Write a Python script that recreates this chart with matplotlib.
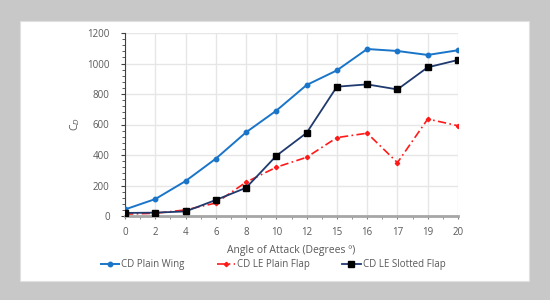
import numpy as np
import matplotlib
matplotlib.use("Agg")
import matplotlib.pyplot as plt
from matplotlib.patches import Rectangle

# angle of attack categories (equally spaced on the chart)
angles = ["0", "2", "4", "6", "8", "10", "12", "15", "16", "17", "19", "20"]

cd_plain_wing = [43, 111, 229, 376, 549, 691, 859, 955, 1095, 1082, 1056, 1087]
cd_le_plain_flap = [12, 18, 40, 85, 222, 320, 385, 514, 543, 350, 636, 592]
cd_le_slotted_flap = [20, 22, 30, 105, 185, 395, 545, 848, 863, 830, 975, 1023]

TEXT = "#595959"
plt.rcParams["font.family"] = ["Open Sans", "DejaVu Sans"]

fig = plt.figure(figsize=(5.5, 3.0), dpi=100)
fig.patch.set_facecolor("#c8c8c8")
# white chart panel
fig.patches.append(Rectangle((20 / 550, 1 - 281 / 300), 509 / 550, 260 / 300,
                             transform=fig.transFigure, facecolor="white",
                             edgecolor="#e0e0e0", lw=0.8, zorder=-10))

ax = fig.add_axes([125 / 550, 1 - 216 / 300, 333 / 550, 183 / 300])
ax.set_zorder(1)
ax.set_facecolor("white")
x = np.arange(len(angles))

ax.plot(x, cd_plain_wing, color="#1a75c9", lw=1.4, marker="o", ms=3.2,
        label="CD Plain Wing", zorder=3)
ax.plot(x, cd_le_plain_flap, color="#ff1a1a", lw=1.2, ls=(0, (5, 2, 1, 2)),
        marker="D", ms=2.2, label="CD LE Plain Flap", zorder=3)
ax.plot(x, cd_le_slotted_flap, color="#1f3a6e", lw=1.3, marker="s", ms=4,
        mfc="black", mec="black", label="CD LE Slotted Flap", zorder=4)

ax.set_xlim(0, len(angles) - 1)
ax.set_ylim(0, 1200)
ax.set_xticks(x)
ax.set_xticklabels(angles)
ax.set_yticks(np.arange(0, 1201, 200))
ax.set_yticks(np.arange(0, 1201, 40), minor=True)
ax.set_xticks(x[:-1] + 0.5, minor=True)

ax.grid(True, which="major", color="#e6e6e6", lw=1.0)
ax.set_axisbelow(True)

for s in ["top", "right"]:
    ax.spines[s].set_visible(False)
ax.spines["left"].set_color("#404040")
ax.spines["left"].set_linewidth(0.8)
ax.spines["bottom"].set_color("#a6a6a6")
ax.spines["bottom"].set_linewidth(2.0)

ax.tick_params(axis="y", which="major", length=3, color="#404040",
               labelsize=7, labelcolor=TEXT, pad=8)
ax.tick_params(axis="y", which="minor", length=2, color="#404040")
ax.tick_params(axis="x", which="both", length=2, color="#808080",
               labelsize=7, labelcolor=TEXT, pad=6)

ax.set_xlabel("Angle of Attack (Degrees º)", fontsize=7.5, color=TEXT, labelpad=5)
ax.set_ylabel("C$_D$", fontsize=7.5, color=TEXT, labelpad=4)

ax.legend(loc="center", bbox_to_anchor=(0.445, 1 - (265 - 33) / 183), ncol=3,
          frameon=False, fontsize=7, labelcolor=TEXT, handlelength=1.9,
          handletextpad=0.2, columnspacing=3.3)

fig.savefig("out.png", dpi=100, facecolor=fig.get_facecolor())
